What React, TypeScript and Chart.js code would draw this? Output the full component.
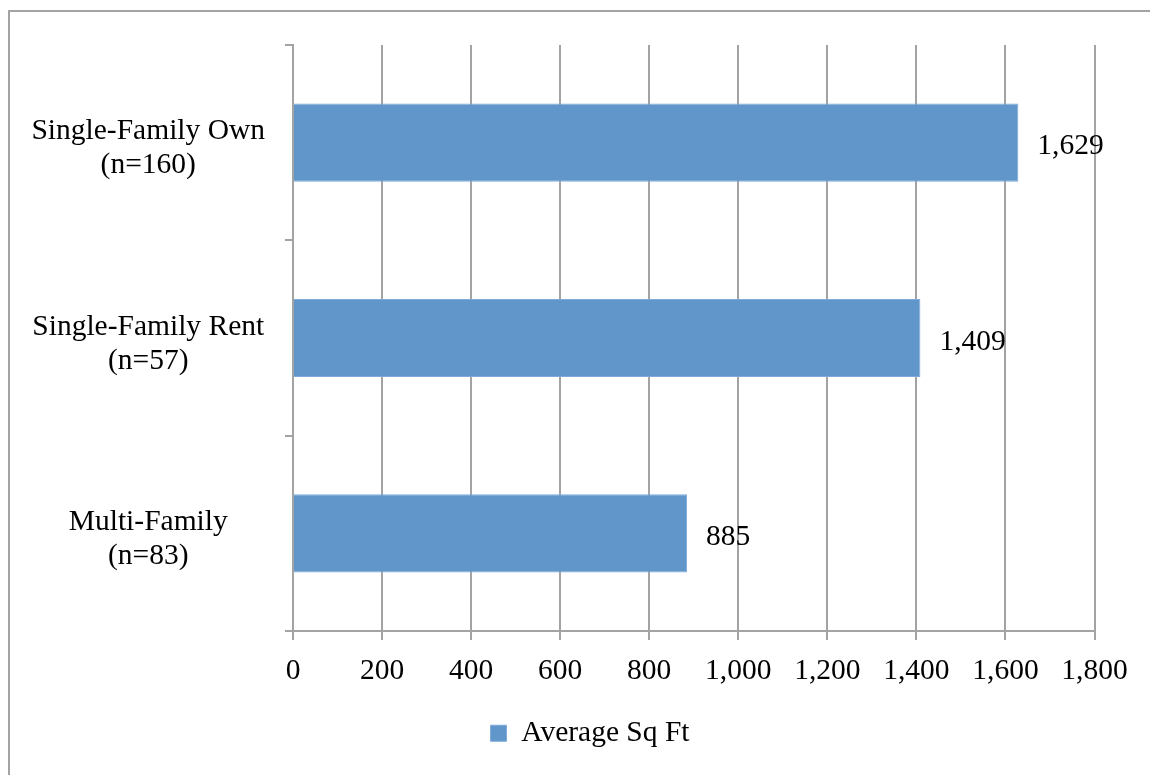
import React, { useEffect, useRef } from "react";
import { Chart, registerables } from "chart.js";

Chart.register(...registerables);

// ---- data ----
const categories: string[][] = [
  ["Single-Family Own", "(n=160)"],
  ["Single-Family Rent", "(n=57)"],
  ["Multi-Family", "(n=83)"],
];
const seriesName = "Average Sq Ft";
const averageSqFt: number[] = [1629, 1409, 885];
const xMin = 0;
const xMax = 1800;
const xStep = 200;

// ---- styles ----
const FONT_FAMILY = "'Liberation Serif', 'Times New Roman', serif";
const FONT_SIZE = 29.5;
const GRID = "#A3A3A3";
const BAR = "#6096C9";
const BAR_BORDER = "#7FAADA";
const FRAME_WIDTH = 1180; // the original chart frame is wider than the visible page

const fmt = (v: number) => Number(v).toLocaleString("en-US");

const frameAndLabels = {
  id: "frameAndLabels",
  afterLayout(chart: any) {
    // center the legend across the whole (partly cropped) chart frame
    const lg = chart.legend;
    if (lg) {
      lg.left = 0;
      lg.right = FRAME_WIDTH;
      lg.width = FRAME_WIDTH;
    }
  },
  beforeDraw(chart: any) {
    const ctx = chart.ctx;
    ctx.save();
    ctx.fillStyle = "#ffffff";
    ctx.fillRect(0, 0, chart.width, chart.height);
    ctx.strokeStyle = GRID;
    ctx.lineWidth = 2;
    ctx.beginPath();
    ctx.moveTo(9, chart.height + 5);
    ctx.lineTo(9, 11);
    ctx.lineTo(chart.width + 5, 11);
    ctx.stroke();
    ctx.restore();
  },
  afterDatasetsDraw(chart: any) {
    const ctx = chart.ctx;
    const meta = chart.getDatasetMeta(0);
    const data = chart.data.datasets[0].data as number[];
    ctx.save();
    ctx.font = `${FONT_SIZE}px ${FONT_FAMILY}`;
    ctx.fillStyle = "#000000";
    ctx.textAlign = "left";
    ctx.textBaseline = "middle";
    meta.data.forEach((el: any, i: number) => {
      ctx.fillText(fmt(data[i]), el.x + 19, el.y + 4);
    });
    ctx.restore();
  },
};

export default function App() {
  const ref = useRef<HTMLCanvasElement | null>(null);

  useEffect(() => {
    if (!ref.current) return;
    const font = { family: FONT_FAMILY, size: FONT_SIZE };
    const chart = new Chart(ref.current, {
      type: "bar",
      data: {
        labels: categories,
        datasets: [
          {
            label: seriesName,
            data: averageSqFt,
            backgroundColor: BAR,
            borderColor: BAR_BORDER,
            borderWidth: 1,
            categoryPercentage: 1,
            barPercentage: 0.4,
          },
        ],
      },
      options: {
        indexAxis: "y",
        responsive: false,
        maintainAspectRatio: false,
        animation: false,
        layout: { padding: { top: 45, right: 55.5, bottom: 17, left: 0 } },
        plugins: {
          tooltip: { enabled: false },
          legend: {
            position: "bottom",
            labels: {
              font,
              color: "#000000",
              boxWidth: 16,
              boxHeight: 16,
              padding: 10,
            },
          },
        },
        scales: {
          x: {
            min: xMin,
            max: xMax,
            ticks: {
              stepSize: xStep,
              font,
              color: "#000000",
              padding: 14,
              maxRotation: 0,
              autoSkip: false,
              callback: (v: any) => fmt(v),
            },
            grid: { color: GRID, lineWidth: 2, tickLength: 9, drawTicks: true },
            border: { display: true, color: GRID, width: 2 },
            afterFit: (s: any) => {
              s.height = 77.5;
            },
          },
          y: {
            ticks: {
              font: { ...font, lineHeight: 1.15 },
              color: "#000000",
              padding: 20,
              crossAlign: "center",
              labelOffset: 6,
            },
            grid: {
              drawOnChartArea: false,
              drawTicks: true,
              tickLength: 8,
              color: GRID,
              lineWidth: 2,
              offset: true,
            },
            border: { display: true, color: GRID, width: 2 },
            afterFit: (s: any) => {
              s.width = 293;
              s.paddingTop = 0;
              s.paddingBottom = 0;
            },
          },
        },
      },
      plugins: [frameAndLabels],
    } as any);
    return () => chart.destroy();
  }, []);

  return (
    <div
      style={{
        position: "fixed",
        left: 0,
        top: 0,
        width: 1150,
        height: 775,
        overflow: "hidden",
        background: "#ffffff",
      }}
    >
      <canvas ref={ref} width={1150} height={775} style={{ display: "block" }} />
    </div>
  );
}
